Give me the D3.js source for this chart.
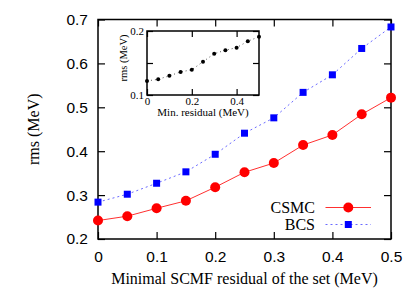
<!DOCTYPE html>
<html><head><meta charset="utf-8">
<script src="https://cdn.jsdelivr.net/npm/d3@7"></script>
<style>body{margin:0;background:#fff}svg{display:block}</style>
</head><body><svg id="c" width="415" height="291"></svg>
<script>
const residuals = [0, 0.05, 0.1, 0.15, 0.2, 0.25, 0.3, 0.35, 0.4, 0.45, 0.5];
const csmc = [0.242, 0.252, 0.270, 0.287, 0.318, 0.352, 0.373, 0.414, 0.437, 0.484, 0.522];
const bcs  = [0.284, 0.302, 0.327, 0.353, 0.393, 0.441, 0.476, 0.534, 0.574, 0.634, 0.683];
const insetRms = [0.122, 0.1245, 0.130, 0.136, 0.1395, 0.152, 0.1645, 0.170, 0.174, 0.184, 0.191];
const xTicks = [0, 0.1, 0.2, 0.3, 0.4, 0.5];
const yTicks = [0.2, 0.3, 0.4, 0.5, 0.6, 0.7];
const insetXTicks = [0, 0.2, 0.4];
const insetYTicks = [0.1, 0.15, 0.2];
const insetYLabels = [0.1, 0.2];

const svg = d3.select("#c");
const L = 98, R = 391, T = 19.5, B = 239;
const x = d3.scaleLinear().domain([0, 0.5]).range([L, R]);
const y = d3.scaleLinear().domain([0.2, 0.7]).range([B, T]);
const sans = "'Liberation Sans', Arial, sans-serif";
const serif = "'Liberation Serif', 'Times New Roman', serif";
const tk = 7;

// ticks (inward, mirrored)
const g = svg.append("g");
g.append("g").attr("transform", `translate(0,${B})`)
  .call(d3.axisBottom(x).tickValues(xTicks).tickSize(-tk).tickPadding(12).tickFormat(d => d === 0 ? "0" : d3.format(".1f")(d)))
  .call(a => { a.select(".domain").remove(); a.selectAll("line").attr("stroke-width", 1.2);
    a.selectAll("text").attr("font-family", sans).attr("font-size", "15.5px").attr("fill", "#000"); });
g.append("g").attr("transform", `translate(0,${T})`)
  .call(d3.axisTop(x).tickValues(xTicks).tickSize(-tk).tickFormat(""))
  .call(a => { a.select(".domain").remove(); a.selectAll("line").attr("stroke-width", 1.2); });
g.append("g").attr("transform", `translate(${L},0)`)
  .call(d3.axisLeft(y).tickValues(yTicks).tickSize(-tk).tickPadding(10).tickFormat(d3.format(".1f")))
  .call(a => { a.select(".domain").remove(); a.selectAll("line").attr("stroke-width", 1.2);
    a.selectAll("text").attr("font-family", sans).attr("font-size", "15.5px").attr("fill", "#000"); });
g.append("g").attr("transform", `translate(${R},0)`)
  .call(d3.axisRight(y).tickValues(yTicks).tickSize(-tk).tickFormat(""))
  .call(a => { a.select(".domain").remove(); a.selectAll("line").attr("stroke-width", 1.2); });

svg.append("rect").attr("x", L).attr("y", T).attr("width", R - L).attr("height", B - T)
  .attr("fill", "none").attr("stroke", "#000").attr("stroke-width", 1.5);

// labels
svg.append("text").attr("x", (L + R) / 2).attr("y", 284).attr("text-anchor", "middle")
  .attr("font-family", serif).attr("font-size", "16px").text("Minimal SCMF residual of the set (MeV)");
svg.append("text").attr("transform", `translate(39,${(T + B) / 2}) rotate(-90)`).attr("text-anchor", "middle")
  .attr("font-family", serif).attr("font-size", "16px").text("rms (MeV)");

// series
const line = yv => d3.line().x((d, i) => x(residuals[i])).y((d, i) => y(yv[i]));
const idx = residuals.map((d, i) => i);
svg.append("path").datum(idx).attr("d", line(bcs)).attr("fill", "none")
  .attr("stroke", "#6a6aff").attr("stroke-width", 1).attr("stroke-dasharray", "2,3");
svg.append("path").datum(idx).attr("d", line(csmc)).attr("fill", "none")
  .attr("stroke", "#ff3030").attr("stroke-width", 1);
svg.append("g").selectAll("rect").data(idx).join("rect")
  .attr("x", i => x(residuals[i]) - 3.5).attr("y", i => y(bcs[i]) - 3.5)
  .attr("width", 7).attr("height", 7).attr("fill", "#0000ff");
svg.append("g").selectAll("circle").data(idx).join("circle")
  .attr("cx", i => x(residuals[i])).attr("cy", i => y(csmc[i])).attr("r", 5).attr("fill", "#ff0000");

// legend
const leg = [{n: "CSMC", yy: 207.5}, {n: "BCS", yy: 224.5}];
leg.forEach((d, k) => {
  svg.append("text").attr("x", 315).attr("y", d.yy + 5.5).attr("text-anchor", "end")
    .attr("font-family", serif).attr("font-size", "16px").text(d.n);
  const ln = svg.append("line").attr("x1", 325.5).attr("x2", 371).attr("y1", d.yy).attr("y2", d.yy).attr("stroke-width", 1);
  if (k === 0) {
    ln.attr("stroke", "#ff3030");
    svg.append("circle").attr("cx", 348.3).attr("cy", d.yy).attr("r", 5).attr("fill", "#ff0000");
  } else {
    ln.attr("stroke", "#6a6aff").attr("stroke-dasharray", "2,3");
    svg.append("rect").attr("x", 348.3 - 3.5).attr("y", d.yy - 3.5).attr("width", 7).attr("height", 7).attr("fill", "#0000ff");
  }
});

// inset
const iL = 147, iR = 259, iT = 31, iB = 95;
const ix = d3.scaleLinear().domain([0, 0.5]).range([iL, iR]);
const iy = d3.scaleLinear().domain([0.1, 0.2]).range([iB, iT]);
svg.append("rect").attr("x", iL).attr("y", iT).attr("width", iR - iL).attr("height", iB - iT)
  .attr("fill", "#fff").attr("stroke", "#000").attr("stroke-width", 1.5);
const itk = 6;
svg.append("g").attr("transform", `translate(0,${iB})`)
  .call(d3.axisBottom(ix).tickValues(insetXTicks).tickSize(-itk).tickPadding(2).tickFormat(d => d === 0 ? "0" : d3.format(".1f")(d)))
  .call(a => { a.select(".domain").remove(); a.selectAll("line").attr("stroke-width", 1.2);
    a.selectAll("text").attr("font-family", serif).attr("font-size", "11px").attr("fill", "#000"); });
svg.append("g").attr("transform", `translate(0,${iT})`)
  .call(d3.axisTop(ix).tickValues(insetXTicks).tickSize(-itk).tickFormat(""))
  .call(a => { a.select(".domain").remove(); a.selectAll("line").attr("stroke-width", 1.2); });
svg.append("g").attr("transform", `translate(${iL},0)`)
  .call(d3.axisLeft(iy).tickValues(insetYTicks).tickSize(-itk).tickPadding(3).tickFormat(d => insetYLabels.includes(d) ? d3.format(".1f")(d) : ""))
  .call(a => { a.select(".domain").remove(); a.selectAll("line").attr("stroke-width", 1.2);
    a.selectAll("text").attr("font-family", serif).attr("font-size", "11px").attr("fill", "#000"); });
svg.append("g").attr("transform", `translate(${iR},0)`)
  .call(d3.axisRight(iy).tickValues(insetYTicks).tickSize(-itk).tickFormat(""))
  .call(a => { a.select(".domain").remove(); a.selectAll("line").attr("stroke-width", 1.2); });
svg.append("text").attr("x", (iL + iR) / 2).attr("y", 116).attr("text-anchor", "middle")
  .attr("font-family", serif).attr("font-size", "11px").text("Min. residual (MeV)");
svg.append("text").attr("transform", `translate(127,58) rotate(-90)`).attr("text-anchor", "middle")
  .attr("font-family", serif).attr("font-size", "10.5px").text("rms (MeV)");
svg.append("path").datum(idx)
  .attr("d", d3.line().x(i => ix(residuals[i])).y(i => iy(insetRms[i])))
  .attr("fill", "none").attr("stroke", "#555").attr("stroke-width", 1).attr("stroke-dasharray", "1,3");
svg.append("g").selectAll("circle").data(idx).join("circle")
  .attr("cx", i => ix(residuals[i])).attr("cy", i => iy(insetRms[i])).attr("r", 2).attr("fill", "#000");
</script></body></html>
